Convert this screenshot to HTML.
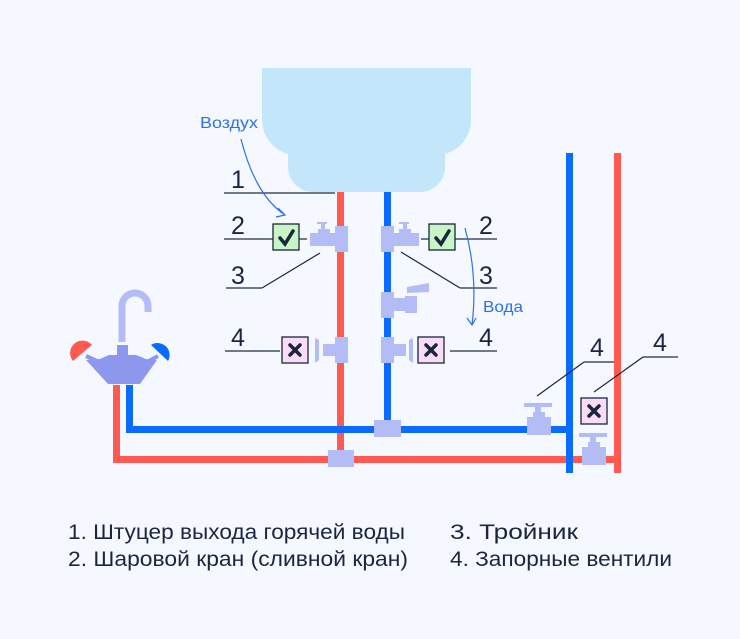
<!DOCTYPE html>
<html><head><meta charset="utf-8"><style>
html,body{margin:0;padding:0;background:#f5f8fe;}
svg{display:block}
text{font-family:"Liberation Sans",sans-serif;}
</style></head><body>
<svg width="740" height="639" viewBox="0 0 740 639" xmlns="http://www.w3.org/2000/svg">
<rect width="740" height="639" fill="#f5f8fe"/>
<!-- tank -->
<path d="M262 68 H471 V120 A35 35 0 0 1 436 155 L445 155 V167 A25 25 0 0 1 420 192 H313 A25 25 0 0 1 288 167 V155 H297 A35 35 0 0 1 262 120 Z" fill="#c4e6fa"/>
<rect x="288" y="150" width="157" height="20" fill="#c4e6fa"/>
<!-- pipes -->
<g fill="#ff5a52">
<rect x="337" y="192" width="7" height="270"/>
<rect x="113" y="385" width="7" height="78"/>
<rect x="113" y="456" width="508" height="7"/>
<rect x="614" y="153" width="7" height="320"/>
</g>
<g fill="#0a6cff">
<rect x="384" y="192" width="7" height="240"/>
<rect x="126" y="385" width="7" height="48"/>
<rect x="126" y="426" width="446" height="7"/>
<rect x="566" y="153" width="7" height="320"/>
</g>
<!-- fittings -->
<g fill="#b4bcf6">
<rect x="335" y="226" width="13" height="26"/>
<rect x="310" y="233" width="25" height="13"/>
<rect x="318" y="229" width="12" height="4"/><rect x="321" y="223" width="4" height="6"/><rect x="317" y="222" width="10" height="2"/>
<rect x="381" y="226" width="13" height="26"/>
<rect x="394" y="233" width="25" height="13"/>
<rect x="399" y="229" width="12" height="4"/><rect x="403" y="223" width="4" height="6"/><rect x="399" y="222" width="10" height="2"/>
<rect x="381" y="292" width="13" height="26"/>
<rect x="394" y="298" width="16" height="13"/>
<rect x="405" y="296" width="12" height="17"/>
<polygon points="407,287 429,283 429,292 407,293"/>
<rect x="335" y="337" width="13" height="26"/>
<rect x="323" y="344" width="12" height="12"/>
<polygon points="315,338 319,340 319,360 315,363"/>
<rect x="381" y="337" width="13" height="26"/>
<rect x="394" y="344" width="12" height="12"/>
<polygon points="413,338 409,340 409,360 413,363"/>
<rect x="374" y="420" width="27" height="17"/>
<rect x="328" y="450" width="26" height="17"/>
<rect x="524" y="403" width="28" height="4"/><rect x="535" y="407" width="6" height="5"/><rect x="527" y="417" width="24" height="18"/><rect x="533" y="412" width="12" height="5"/>
<rect x="579" y="433" width="28" height="4"/><rect x="590" y="437" width="6" height="5"/><rect x="582" y="447" width="24" height="18"/><rect x="588" y="442" width="12" height="5"/>
</g>
<!-- faucet -->
<path d="M122 342 V306 A13 13 0 0 1 148 306 V312" fill="none" stroke="#b4bcf6" stroke-width="7"/>
<g fill="#8d97ec">
<rect x="117" y="345" width="11" height="10"/>
<rect x="109" y="355" width="27" height="5"/>
<polygon points="86,360 100,359 109,355 136,355 146,359 157,360 140,384 108,384"/>
</g>
<line x1="86" y1="356" x2="112" y2="368" stroke="#8d97ec" stroke-width="4"/>
<line x1="158" y1="356" x2="136" y2="368" stroke="#8d97ec" stroke-width="4"/>
<path d="M73 361 A12 12 0 0 1 92 345 Z" fill="#ff5a52"/>
<path d="M168 361 A12 12 0 0 0 151 345 Z" fill="#0a6cff"/>
<!-- label lines -->
<g stroke="#6e7a8a" stroke-width="2" fill="none">
<line x1="224" y1="193" x2="335" y2="193"/>
<line x1="224" y1="239" x2="273" y2="239"/>
<line x1="299" y1="239" x2="307" y2="239"/>
<line x1="226" y1="288" x2="262" y2="288"/>
<line x1="225" y1="351" x2="280" y2="351"/>
<line x1="421" y1="239" x2="429" y2="239"/>
<line x1="455" y1="239" x2="497" y2="239"/>
<line x1="460" y1="288" x2="497" y2="288"/>
<line x1="450" y1="351" x2="497" y2="351"/>
<line x1="584" y1="362" x2="614" y2="362"/>
<line x1="643" y1="357" x2="678" y2="357"/>
</g>
<g stroke="#1a2540" stroke-width="1.2" fill="none">
<line x1="262" y1="288" x2="320" y2="253"/>
<line x1="401" y1="252" x2="460" y2="288"/>
<line x1="537" y1="396" x2="584" y2="362"/>
<line x1="594" y1="392" x2="643" y2="357"/>
</g>
<g stroke="#2a73e8" stroke-width="1.2" fill="none">
<path d="M241 139 Q255 195 285 215"/>
<path d="M278 208 L285 215 L276 217"/>
<path d="M465 228 Q478 275 472 325"/>
<path d="M467 318 L472 325 L476 318"/>
</g>
<text x="200" y="128" font-size="16" fill="#2a73e8" textLength="58" lengthAdjust="spacingAndGlyphs">Воздух</text>
<text x="483" y="312" font-size="16" fill="#2a73e8" textLength="40" lengthAdjust="spacingAndGlyphs">Вода</text>
<g stroke="#1a2540" stroke-width="1.3">
<rect x="273" y="224" width="26" height="26" fill="#c9f5c5"/>
<rect x="429" y="224" width="26" height="26" fill="#c9f5c5"/>
<rect x="282" y="337" width="26" height="26" fill="#fadcf7"/>
<rect x="418" y="337" width="26" height="26" fill="#fadcf7"/>
<rect x="581" y="398" width="26" height="26" fill="#fadcf7"/>
</g>
<g stroke="#1a2540" stroke-width="3.5" fill="none" stroke-linecap="round">
<path d="M280 238 L285 244 L293 231"/>
<path d="M436 238 L441 244 L449 231"/>
<path d="M290 345 L300 355 M300 345 L290 355"/>
<path d="M426 345 L436 355 M436 345 L426 355"/>
<path d="M589 406 L599 416 M599 406 L589 416"/>
</g>
<g font-size="25" fill="#1a2540">
<text x="231" y="188">1</text>
<text x="231" y="234">2</text>
<text x="231" y="284">3</text>
<text x="231" y="346">4</text>
<text x="479" y="234">2</text>
<text x="479" y="284">3</text>
<text x="479" y="346">4</text>
<text x="590" y="356">4</text>
<text x="653" y="351">4</text>
</g>
<g font-size="21" fill="#1a2540">
<text x="68" y="539" textLength="337" lengthAdjust="spacingAndGlyphs">1. Штуцер выхода горячей воды</text>
<text x="68" y="566" textLength="340" lengthAdjust="spacingAndGlyphs">2. Шаровой кран (сливной кран)</text>
<text x="450" y="539" textLength="128" lengthAdjust="spacingAndGlyphs">3. Тройник</text>
<text x="450" y="566" textLength="222" lengthAdjust="spacingAndGlyphs">4. Запорные вентили</text>
</g>
</svg>
</body></html>
